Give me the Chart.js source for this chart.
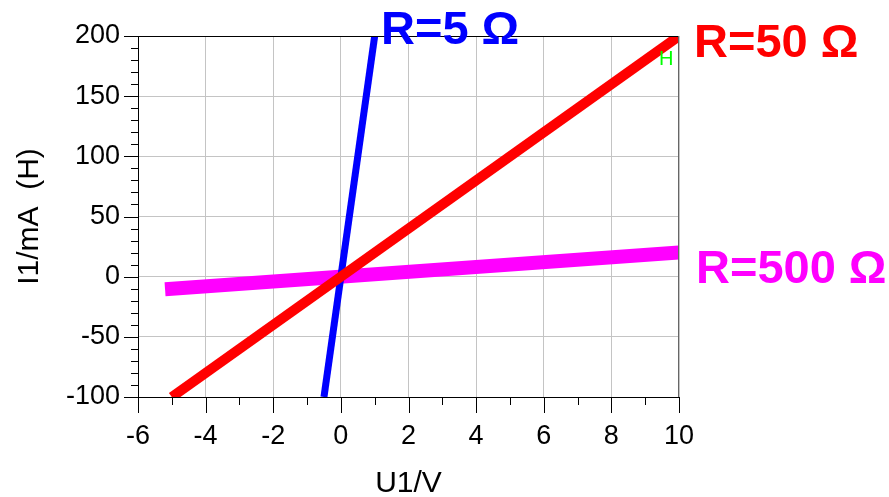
<!DOCTYPE html>
<html>
<head>
<meta charset="utf-8">
<script src="https://cdn.jsdelivr.net/npm/chart.js@4.4.1/dist/chart.umd.min.js"></script>
<style>
  html, body { margin: 0; padding: 0; background: #fff; }
  #wrap { width: 889px; height: 497px; }
</style>
</head>
<body>
<div id="wrap"><canvas id="iv"></canvas></div>
<script>
// U1 in V, I1 in mA
const u5 = [-0.5, 1];
const i5 = [-100, 200];
const u50 = [-5, 10];
const i50 = [-100, 200];
const u500 = [-5.2, 10];
const i500 = [-10.4, 20];

const xTicks = [-6, -4, -2, 0, 2, 4, 6, 8, 10];
const yTicks = [-100, -50, 0, 50, 100, 150, 200];

const FONT = "'Liberation Sans', Arial, sans-serif";

const toPoints = (xs, ys) => xs.map((x, i) => ({ x, y: ys[i] }));

const axisDecor = {
  id: 'axisDecor',
  afterDatasetsDraw(chart) {
    const { ctx, chartArea: a, scales } = chart;
    const xs = scales.x, ys = scales.y;
    ctx.save();
    // top + right frame
    ctx.lineWidth = 1;
    ctx.strokeStyle = '#000';
    ctx.beginPath();
    ctx.moveTo(a.left, a.top + 0.5);
    ctx.lineTo(a.right, a.top + 0.5);
    ctx.stroke();
    ctx.strokeStyle = '#666';
    ctx.beginPath();
    ctx.moveTo(a.right - 0.5, a.top);
    ctx.lineTo(a.right - 0.5, a.bottom);
    ctx.stroke();
    // tick marks
    ctx.strokeStyle = '#000';
    ctx.beginPath();
    for (let v = xs.min; v <= xs.max; v += 1) {
      const px = Math.round(xs.getPixelForValue(v)) + 0.5;
      const len = v % 2 === 0 ? 16 : 8;
      ctx.moveTo(px, a.bottom);
      ctx.lineTo(px, a.bottom + len);
    }
    for (let v = ys.min; v <= ys.max; v += 10) {
      const py = Math.round(ys.getPixelForValue(v)) + 0.5;
      const len = v % 50 === 0 ? 14 : 7;
      ctx.moveTo(a.left, py);
      ctx.lineTo(a.left - len, py);
    }
    ctx.stroke();
    ctx.restore();
  },
  afterDraw(chart) {
    const { ctx } = chart;
    ctx.save();
    ctx.textBaseline = 'alphabetic';
    ctx.textAlign = 'left';
    ctx.font = 'bold 47px ' + FONT;
    ctx.fillStyle = '#0000ff';
    ctx.fillText('R=5 Ω', 381, 44);
    ctx.fillStyle = '#ff0000';
    ctx.fillText('R=50 Ω', 694, 57);
    ctx.fillStyle = '#ff00ff';
    ctx.fillText('R=500 Ω', 696, 283);
    ctx.font = '20px ' + FONT;
    ctx.fillStyle = '#00ff00';
    ctx.fillText('H', 659, 65);
    ctx.restore();
  },
};

new Chart(document.getElementById('iv'), {
  type: 'scatter',
  data: {
    datasets: [
      {
        label: 'R=50 Ω',
        data: toPoints(u50, i50),
        borderColor: '#ff0000',
        borderWidth: 10,
        showLine: true,
        pointRadius: 0,
        clip: 0,
      },
      {
        label: 'R=5 Ω',
        data: toPoints(u5, i5),
        borderColor: '#0000ff',
        borderWidth: 7,
        showLine: true,
        pointRadius: 0,
        clip: 0,
      },
      {
        label: 'R=500 Ω',
        data: toPoints(u500, i500),
        borderColor: '#ff00ff',
        borderWidth: 14,
        showLine: true,
        pointRadius: 0,
        clip: 0,
      },
    ],
  },
  options: {
    responsive: true,
    maintainAspectRatio: false,
    animation: false,
    layout: { padding: { top: 36, right: 210, left: 0, bottom: 0 } },
    plugins: { legend: { display: false }, tooltip: { enabled: false } },
    scales: {
      x: {
        type: 'linear',
        min: -6,
        max: 10,
        afterBuildTicks: (s) => { s.ticks = xTicks.map((v) => ({ value: v })); },
        afterFit: (s) => { s.height = 100; },
        ticks: { color: '#000', font: { family: FONT, size: 27 }, padding: 23, maxRotation: 0 },
        grid: { color: '#c4c4c4', drawTicks: false },
        border: { color: '#000', width: 1 },
        title: {
          display: true,
          text: 'U1/V',
          color: '#000',
          font: { family: FONT, size: 30 },
          padding: { top: 0, bottom: -5 },
        },
      },
      y: {
        type: 'linear',
        min: -100,
        max: 200,
        afterBuildTicks: (s) => { s.ticks = yTicks.map((v) => ({ value: v })); },
        afterFit: (s) => { s.width = 138; },
        ticks: { color: '#000', font: { family: FONT, size: 27 }, padding: 18 },
        grid: { color: '#c4c4c4', drawTicks: false },
        border: { color: '#000', width: 1 },
        title: {
          display: true,
          text: 'I1/mA  (H)',
          color: '#000',
          font: { family: FONT, size: 30 },
          padding: { top: 12, bottom: 0 },
        },
      },
    },
  },
  plugins: [axisDecor],
});
</script>
</body>
</html>
